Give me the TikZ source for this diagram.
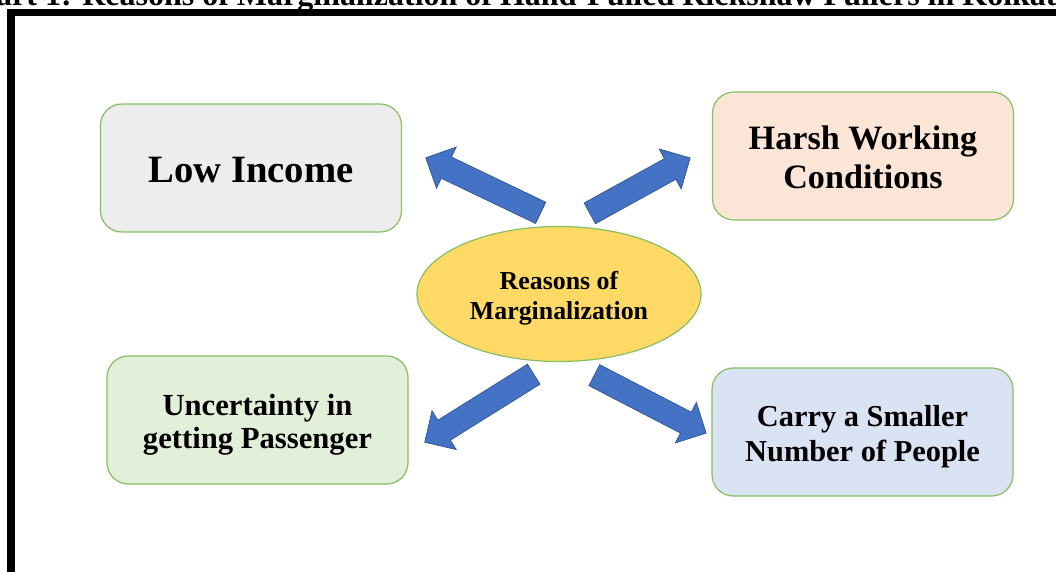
\documentclass[tikz,border=0pt]{standalone}
\usepackage{fontspec}
\setmainfont{Liberation Serif}
\usepackage{tikz}
\usetikzlibrary{shapes.geometric, shapes.arrows, positioning}
\definecolor{boxline}{HTML}{86BF62}
\definecolor{lowfill}{HTML}{EDEDED}
\definecolor{harshfill}{HTML}{FBE5D6}
\definecolor{uncfill}{HTML}{E2F0D9}
\definecolor{carryfill}{HTML}{DAE3F3}
\definecolor{hubfill}{HTML}{FFD966}
\definecolor{arrfill}{HTML}{4472C4}
\definecolor{arrline}{HTML}{2F528F}

\begin{document}
\begin{tikzpicture}[x=0.75pt, y=-0.75pt, font=\bfseries,
  reason/.style={draw=boxline, line width=0.9pt, rounded corners=16pt,
    minimum width=225.75pt, minimum height=96pt, inner sep=0pt},
  hub/.style={ellipse, draw=boxline, line width=0.9pt, fill=hubfill,
    minimum width=213pt, minimum height=101.25pt, inner sep=0pt},
  words/.style={align=center, inner sep=0pt},
  blockarrow/.style={single arrow, fill=arrfill, draw=arrline, line width=0.5pt,
    inner sep=8.6pt, single arrow head extend=8.3pt, anchor=tail}]

\clip (0,0) rectangle (1056,571);

% title line, cut off at the top
\node[anchor=base west, inner sep=0pt, font=\bfseries\fontsize{24}{28}\selectfont]
  (title) at (-45,5) {Chart 1: Reasons of Marginalization of Hand-Pulled Rickshaw Pullers in Kolkata};

% frame
\draw[line width=5.6pt, line join=miter] (11,600) -- (11,12.5) -- (1080,12.5);

\node[hub, label={[name=hubtext, words, yshift=-3pt, font=\bfseries\fontsize{19.4}{22.5}\selectfont]center:Reasons of\\Marginalization}] (hub) at (559,294) {};

\node[reason, fill=lowfill, label={[name=lowtext, words, yshift=-1.5pt, font=\bfseries\fontsize{29}{34}\selectfont]center:Low Income}] (low) at (251,168) {};
\node[reason, fill=harshfill, label={[name=harshtext, words, yshift=-1.2pt, font=\bfseries\fontsize{25.6}{29.25}\selectfont]center:Harsh Working\\Conditions}] (harsh) at (863,156) {};
\node[reason, fill=uncfill, label={[name=unctext, words, yshift=-3.8pt, font=\bfseries\fontsize{23}{24.75}\selectfont]center:Uncertainty in\\getting Passenger}] (unc) at (257.5,420) {};
\node[reason, fill=carryfill, label={[name=carrytext, words, yshift=-3.8pt, font=\bfseries\fontsize{22.8}{26.25}\selectfont]center:Carry a Smaller\\Number of People}] (carry) at (862.5,432) {};

% block arrows
\node[blockarrow, minimum height=95.6pt, rotate=154.4] (arrlow) at (541,213) {};
\node[blockarrow, minimum height=86pt, rotate=28.9] (arrharsh) at (589.5,213.5) {};
\node[blockarrow, minimum height=96.4pt, rotate=212] (arrunc) at (534,374) {};
\node[blockarrow, minimum height=94.5pt, rotate=-27.4] (arrcarry) at (594,375) {};
\end{tikzpicture}
\end{document}
